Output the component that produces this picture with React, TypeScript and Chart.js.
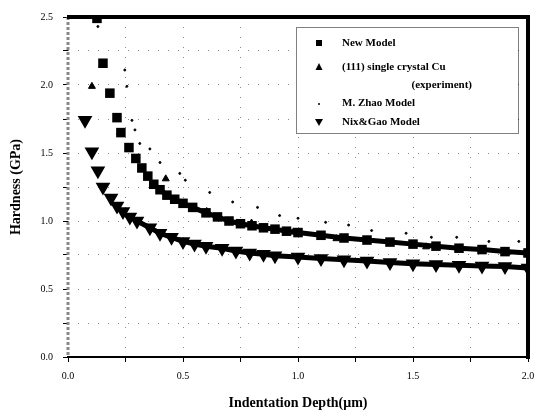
import React, { useEffect, useRef } from "react";
import { Chart, registerables } from "chart.js";

Chart.register(...registerables);

const FONT = "'Liberation Serif', 'Times New Roman', serif";

// New Model (upper curve)
const newModelX = [0.126, 0.152, 0.182, 0.213, 0.23, 0.265, 0.295, 0.321, 0.347, 0.373, 0.40, 0.43, 0.464, 0.50, 0.542, 0.60, 0.65, 0.70, 0.75, 0.80, 0.85, 0.90, 0.95, 1.00, 1.1, 1.2, 1.3, 1.4, 1.5, 1.6, 1.7, 1.8, 1.9, 2.0];
const newModelY = [2.49, 2.16, 1.94, 1.76, 1.65, 1.54, 1.46, 1.39, 1.33, 1.27, 1.23, 1.19, 1.16, 1.13, 1.10, 1.06, 1.03, 1.00, 0.98, 0.965, 0.95, 0.94, 0.925, 0.915, 0.895, 0.875, 0.86, 0.845, 0.83, 0.815, 0.80, 0.79, 0.775, 0.765];

// (111) single crystal Cu (experiment)
const expX = [0.104, 0.152, 0.226, 0.425, 0.603, 0.798, 0.98, 1.167, 1.557, 1.909];
const expY = [1.99, 2.16, 1.65, 1.31, 1.07, 0.985, 0.92, 0.87, 0.81, 0.77];

// M. Zhao Model
const zhaoX = [0.13, 0.247, 0.256, 0.278, 0.291, 0.312, 0.356, 0.40, 0.486, 0.51, 0.616, 0.716, 0.824, 0.92, 1.0, 1.12, 1.22, 1.32, 1.47, 1.58, 1.69, 1.83, 1.96];
const zhaoY = [2.43, 2.11, 1.99, 1.74, 1.67, 1.57, 1.53, 1.43, 1.35, 1.30, 1.21, 1.14, 1.10, 1.04, 1.02, 0.99, 0.97, 0.93, 0.91, 0.88, 0.88, 0.85, 0.85];

// Nix&Gao Model (lower curve)
const nixX = [0.074, 0.104, 0.13, 0.152, 0.187, 0.213, 0.239, 0.269, 0.30, 0.356, 0.40, 0.45, 0.50, 0.55, 0.60, 0.67, 0.73, 0.79, 0.85, 0.90, 1.0, 1.1, 1.2, 1.3, 1.4, 1.5, 1.6, 1.7, 1.8, 1.9, 2.0];
const nixY = [1.74, 1.51, 1.37, 1.25, 1.17, 1.11, 1.07, 1.03, 1.00, 0.95, 0.91, 0.88, 0.85, 0.83, 0.815, 0.80, 0.78, 0.765, 0.755, 0.745, 0.735, 0.725, 0.715, 0.705, 0.695, 0.685, 0.68, 0.675, 0.67, 0.665, 0.655];

const xTickLabels = ["0.0", "0.5", "1.0", "1.5", "2.0"];
const yTickLabels = ["0.0", "0.5", "1.0", "1.5", "2.0", "2.5"];

const legendItems = ["New Model", "(111) single crystal Cu", "(experiment)", "M. Zhao Model", "Nix&Gao Model"];

const pts = (xs: number[], ys: number[]) => xs.map((x, i) => ({ x, y: ys[i] }));

const framePlugin = {
  id: "frame",
  afterDraw(chart: any) {
    const { ctx, chartArea: a } = chart;
    ctx.save();
    ctx.strokeStyle = "#888";
    ctx.lineWidth = 3;
    ctx.setLineDash([3, 2]);
    ctx.beginPath();
    ctx.moveTo(a.left, a.top);
    ctx.lineTo(a.left, a.bottom);
    ctx.stroke();
    ctx.setLineDash([]);
    ctx.strokeStyle = "#000";
    ctx.lineWidth = 4;
    ctx.beginPath();
    ctx.moveTo(a.left - 1, a.top);
    ctx.lineTo(a.right, a.top);
    ctx.lineTo(a.right, a.bottom + 2);
    ctx.stroke();

    const bx = 296, by = 27, bw = 222, bh = 106;
    ctx.lineWidth = 1;
    ctx.setLineDash([1, 1]);
    ctx.strokeStyle = "#000";
    ctx.fillStyle = "#fff";
    ctx.fillRect(bx, by, bw, bh);
    ctx.strokeRect(bx + 0.5, by + 0.5, bw, bh);
    ctx.setLineDash([]);
    ctx.fillStyle = "#000";
    ctx.font = `bold 11px ${FONT}`;
    ctx.textBaseline = "middle";
    ctx.textAlign = "left";
    const sx = 319, tx = 342;
    ctx.fillRect(sx - 3, 43 - 3, 6, 6);
    ctx.fillText(legendItems[0], tx, 43);
    ctx.beginPath();
    ctx.moveTo(sx, 63);
    ctx.lineTo(sx + 3.5, 70);
    ctx.lineTo(sx - 3.5, 70);
    ctx.closePath();
    ctx.fill();
    ctx.fillText(legendItems[1], tx, 67);
    ctx.textAlign = "right";
    ctx.fillText(legendItems[2], 472, 85);
    ctx.textAlign = "left";
    ctx.beginPath();
    ctx.arc(sx, 104, 1, 0, Math.PI * 2);
    ctx.fill();
    ctx.fillText(legendItems[3], tx, 103);
    ctx.beginPath();
    ctx.moveTo(sx - 4, 119);
    ctx.lineTo(sx + 4, 119);
    ctx.lineTo(sx, 126);
    ctx.closePath();
    ctx.fill();
    ctx.fillText(legendItems[4], tx, 122);
    ctx.restore();
  },
};

export default function App() {
  const ref = useRef<HTMLCanvasElement>(null);
  useEffect(() => {
    if (!ref.current) return;
    const chart = new Chart(ref.current, {
      type: "scatter",
      data: {
        datasets: [
          {
            label: "Nix&Gao Model",
            data: pts(nixX, nixY),
            pointStyle: "triangle",
            rotation: 180,
            pointRadius: 3.5,
            backgroundColor: "#000",
            borderColor: "#000",
            showLine: true,
            borderWidth: 5,
            segment: { borderColor: (c: any) => (c.p0.parsed.x < 0.25 ? "rgba(0,0,0,0)" : "#000") },
          } as any,
          {
            label: "New Model",
            data: pts(newModelX, newModelY),
            pointStyle: "rect",
            pointRadius: 3.2,
            backgroundColor: "#000",
            borderColor: "#000",
            showLine: true,
            borderWidth: 5,
            segment: { borderColor: (c: any) => (c.p0.parsed.x < 0.38 ? "rgba(0,0,0,0)" : "#000") },
          } as any,
          {
            label: "(111) single crystal Cu (experiment)",
            data: pts(expX, expY),
            pointStyle: "triangle",
            pointRadius: 4,
            backgroundColor: "#000",
            borderColor: "#000",
          },
          {
            label: "M. Zhao Model",
            data: pts(zhaoX, zhaoY),
            pointStyle: "circle",
            pointRadius: 1,
            backgroundColor: "#000",
            borderColor: "#000",
          },
        ],
      },
      options: {
        animation: false,
        responsive: false,
        layout: { padding: { left: 8, top: 17, right: 0, bottom: 0 } },
        plugins: { legend: { display: false }, tooltip: { enabled: false } },
        scales: {
          x: {
            type: "linear",
            min: 0,
            max: 2,
            afterFit: (s: any) => { s.height = 57; s.paddingRight = 8; },
            ticks: {
              stepSize: 0.25,
              color: "#000",
              font: { family: FONT, size: 10 },
              padding: 8,
              maxRotation: 0,
              autoSkip: false,
              callback: (v: any) => {
                const i = Math.round(Number(v) * 2);
                return Math.abs(Number(v) * 2 - i) < 1e-6 ? xTickLabels[i] : "";
              },
            },
            grid: {
              color: "#888",
              lineWidth: 1,
              tickColor: "#000",
              tickLength: 5,
              tickBorderDash: [],
            } as any,
            border: { display: true, color: "#000", width: 2, dash: [1, 9] },
            title: {
              display: true,
              text: "Indentation Depth(\u03bcm)",
              color: "#000",
              font: { family: FONT, size: 14, weight: "bold" },
              padding: { top: 6, bottom: 2 },
            },
          },
          y: {
            type: "linear",
            min: 0,
            max: 2.5,
            afterFit: (s: any) => { s.width = 60; },
            ticks: {
              stepSize: 0.25,
              color: "#000",
              font: { family: FONT, size: 10 },
              padding: 10,
              autoSkip: false,
              callback: (v: any) => {
                const i = Math.round(Number(v) * 2);
                return Math.abs(Number(v) * 2 - i) < 1e-6 ? yTickLabels[i] : "";
              },
            },
            grid: {
              color: "#888",
              lineWidth: 1,
              tickColor: "#000",
              tickLength: 5,
              tickBorderDash: [],
            } as any,
            border: { display: false, dash: [1, 9] },
            title: {
              display: true,
              text: "Hardness (GPa)",
              color: "#000",
              font: { family: FONT, size: 14, weight: "bold" },
              padding: { top: 0, bottom: 4 },
            },
          },
        },
      },
      plugins: [framePlugin],
    });
    return () => chart.destroy();
  }, []);
  return (
    <div style={{ position: "fixed", left: 0, top: 0, width: 537, height: 414, background: "#fff" }}>
      <canvas ref={ref} width={537} height={414} />
    </div>
  );
}
